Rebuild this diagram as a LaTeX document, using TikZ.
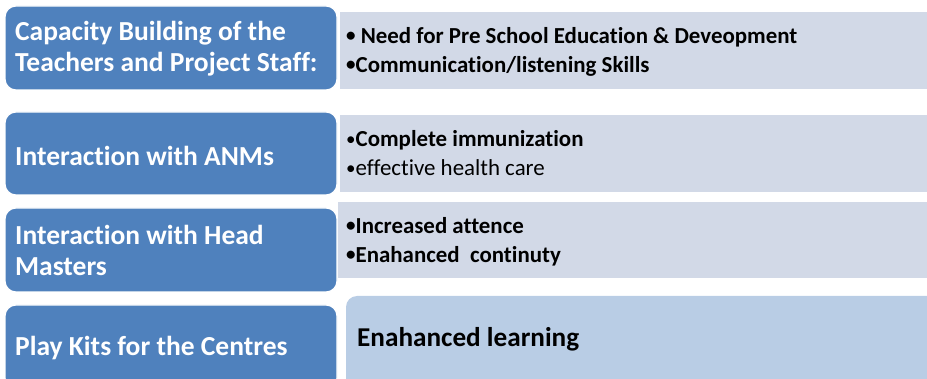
\documentclass[tikz,border=0pt]{standalone}
\usepackage{fontspec}
\setmainfont{Carlito}[Ligatures=NoCommon]
\definecolor{hdblue}{HTML}{4F81BD}
\definecolor{notegray}{HTML}{D2D9E7}
\definecolor{resultblue}{HTML}{B9CDE5}
% small raised list bullet
\newcommand\listbul{\raisebox{1.8pt}{\fontsize{19}{19}\selectfont•}}
\tikzset{
  x=1pt, y=-1pt,
  bluebox/.style={draw=white, line width=1.2pt, fill=hdblue, rounded corners=11pt,
    minimum width=332pt, inner sep=0pt, outer sep=0pt},
  notebox/.style={fill=notegray, inner sep=0pt, outer sep=0pt},
  resultbox/.style={fill=resultblue, rounded corners=11pt, inner sep=0pt, outer sep=0pt},
  headtext/.style={anchor=west, text=white, font=\bfseries\fontsize{27.5}{31}\selectfont,
    align=left, inner sep=0pt},
  notetext/.style={anchor=west, text=black, font=\fontsize{22.9}{29}\selectfont,
    align=left, inner sep=0pt},
}
\begin{document}
\begin{tikzpicture}
\useasboundingbox (0,0) rectangle (927,379);
\clip (0,0) rectangle (927,379);

% left column: topic boxes
\node[bluebox, minimum height=84pt] (b1) at (171,48) {};
\node[bluebox, minimum height=83pt] (b2) at (171,153.5) {};
\node[bluebox, minimum height=84pt] (b3) at (171,250) {};
\node[bluebox, minimum height=84pt] (b4) at (171,347) {};

% right column: outcome boxes
\node[notebox, minimum width=600pt, minimum height=77pt, anchor=north west] (n1) at (340,12) {};
\node[notebox, minimum width=600pt, minimum height=77pt, anchor=north west] (n2) at (340,115) {};
\node[notebox, minimum width=600pt, minimum height=76pt, anchor=north west] (n3) at (338,202) {};
\node[resultbox, minimum width=600pt, minimum height=95pt, anchor=north west] (n4) at (346,296) {};

% topic labels (yshift is measured upwards on the page)
\node[headtext] (h1) at ([xshift=10pt, yshift=-1pt]b1.west) {Capacity Building of the\\Teachers and Project Staff:};
\node[headtext] (h2) at ([xshift=10pt, yshift=-2pt]b2.west) {Interaction with ANMs};
\node[headtext] (h3) at ([xshift=10pt]b3.west) {Interaction with Head\\Masters};
\node[headtext] (h4) at ([xshift=10pt, yshift=-1pt]b4.west) {Play Kits for the Centres};

% outcome labels
\node[notetext] (o1) at ([xshift=6pt, yshift=-1pt]n1.west) {\textbf{\listbul{} Need for Pre School Education \& Deveopment}\\\textbf{\listbul Communication/listening Skills}};
\node[notetext] (o2) at ([xshift=6pt]n2.west) {\listbul\textbf{Complete immunization}\\\listbul effective health care};
\node[notetext] (o3) at ([xshift=8pt, yshift=-2pt]n3.west) {\textbf{\listbul Increased attence}\\\textbf{\listbul Enahanced\ \ continuty}};
\node[anchor=west, font=\bfseries\fontsize{27.2}{31}\selectfont, inner sep=0pt] (o4) at (357,339) {Enahanced learning};
\end{tikzpicture}
\end{document}
